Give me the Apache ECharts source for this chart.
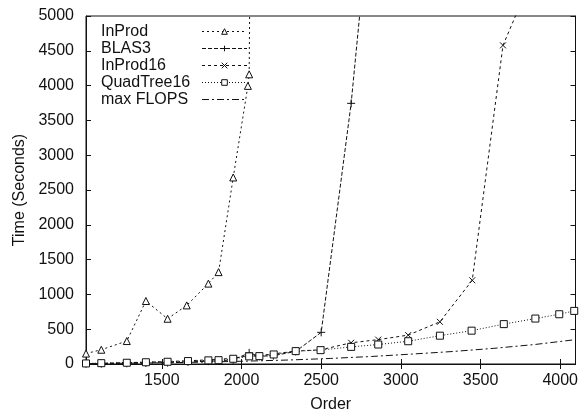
<!DOCTYPE html>
<html>
<head>
<meta charset="utf-8">
<script src="https://cdn.jsdelivr.net/npm/echarts@6/dist/echarts.min.js"></script>
<style>html,body{margin:0;padding:0;background:#fff}#c{width:581px;height:418px}</style>
</head>
<body>
<div id="c"></div>
<script>
// ---- data ----
const seriesNames = ['InProd', 'BLAS3', 'InProd16', 'QuadTree16', 'max FLOPS'];
const xTickValues = [1500, 2000, 2500, 3000, 3500, 4000];

const inProdOrder = [1024, 1120, 1280, 1400, 1536, 1656, 1792, 1856, 1948, 2040, 2048, 2100];
const inProdTime  = [150, 205, 330, 905, 650, 842, 1155, 1320, 2680, 3996, 4162, 20000];

const blas3Order = [1024, 1120, 1280, 1400, 1536, 1664, 1792, 1856, 1948, 2048, 2112, 2200, 2340, 2500, 2688, 2800];
const blas3Time  = [3, 5, 10, 15, 20, 30, 40, 45, 60, 160, 110, 120, 180, 455, 3745, 6400];

const inProd16Order = [1024, 1120, 1280, 1400, 1536, 1664, 1792, 1856, 1948, 2048, 2112, 2200, 2340, 2500, 2688, 2858, 3046, 3245, 3448, 3641, 3840];
const inProd16Time  = [6, 10, 20, 26, 36, 46, 60, 66, 85, 118, 120, 145, 185, 205, 305, 350, 415, 606, 1203, 4578, 5650];

const quadOrder = [1024, 1120, 1280, 1400, 1536, 1664, 1792, 1856, 1948, 2048, 2112, 2202, 2340, 2496, 2688, 2858, 3046, 3245, 3444, 3646, 3844, 3994, 4088];
const quadTime  = [8, 12, 18, 25, 32, 42, 52, 55, 75, 110, 113, 137, 185, 199, 246, 280, 327, 407, 479, 573, 653, 715, 763];

const flopsOrder = [1024, 1280, 1536, 1792, 2048, 2304, 2560, 2816, 3072, 3328, 3584, 3840, 4096];
const flopsTime  = [5, 11, 18, 29, 42, 58, 80, 108, 143, 180, 225, 280, 350];

// ---- chart ----
const pairs = (xs, ys) => xs.map((x, i) => [x, ys[i]]);
const font = 'Liberation Sans, Arial, Helvetica, sans-serif';
const ink = '#111';

const triPath = 'path://M5,0L10,9L0,9Z';
const squarePath = 'path://M0,0L10,0L10,10L0,10Z';
const plusPath = 'path://M0,5L10,5M5,0L5,10';
const crossPath = 'path://M0,0L10,10M10,0L0,10';

function mk(name, data, dash, symbol, size, itemStyle) {
  return {
    name: name,
    type: 'line',
    data: data,
    symbol: symbol,
    symbolSize: size,
    showSymbol: symbol !== 'none',
    lineStyle: { color: ink, width: 1, type: dash },
    itemStyle: itemStyle,
    emphasis: { disabled: true },
    animation: false,
    clip: true
  };
}
const hollowStyle = { color: '#fff', borderColor: ink, borderWidth: 1 };
const strokeStyle = { color: 'rgba(0,0,0,0)', borderColor: ink, borderWidth: 1 };

const legendItemStyle = {
  'InProd': hollowStyle,
  'BLAS3': strokeStyle,
  'InProd16': strokeStyle,
  'QuadTree16': hollowStyle,
  'max FLOPS': { opacity: 0 }
};

const chart = echarts.init(document.getElementById('c'), null, { renderer: 'canvas' });
chart.setOption({
  animation: false,
  backgroundColor: '#fff',
  textStyle: { fontFamily: font },
  grid: { left: 86, right: 5, top: 16, bottom: 50, show: true, borderColor: ink, borderWidth: 1 },
  legend: {
    left: 96, top: 18,
    orient: 'vertical',
    align: 'right',
    itemGap: 0,
    itemWidth: 45,
    itemHeight: 7,
    lineStyle: { width: 1 },
    data: seriesNames.map(n => ({ name: n, itemStyle: legendItemStyle[n] })),
    formatter: n => '{n|' + n + '}',
    textStyle: {
      fontFamily: font, fontSize: 16, color: ink, lineHeight: 17,
      rich: { n: { width: 96, align: 'left', fontFamily: font, fontSize: 16, color: ink, lineHeight: 17 } }
    },
    selectedMode: false
  },
  xAxis: [{
    type: 'value', min: 1024, max: 4096,
    name: 'Order', nameLocation: 'middle', nameGap: 33,
    nameTextStyle: { fontFamily: font, fontSize: 16, color: ink },
    axisLine: { show: true, lineStyle: { color: ink } },
    axisTick: { show: true, inside: true, length: 5, customValues: xTickValues, lineStyle: { color: ink } },
    axisLabel: { show: true, customValues: xTickValues, fontSize: 16, color: ink, margin: 9, fontFamily: font, formatter: v => String(v) },
    splitLine: { show: false }
  }, {
    type: 'value', min: 1024, max: 4096, position: 'top',
    axisLine: { show: true, lineStyle: { color: ink } },
    axisTick: { show: true, inside: true, length: 5, customValues: xTickValues, lineStyle: { color: ink } },
    axisLabel: { show: false },
    splitLine: { show: false }
  }],
  yAxis: [{
    type: 'value', min: 0, max: 5000, interval: 500,
    name: 'Time (Seconds)', nameLocation: 'middle', nameGap: 52, nameRotate: 90,
    nameTextStyle: { fontFamily: font, fontSize: 16, color: ink },
    axisLine: { show: true, lineStyle: { color: ink } },
    axisTick: { show: true, inside: true, length: 5, lineStyle: { color: ink } },
    axisLabel: { fontSize: 16, color: ink, margin: 12, fontFamily: font, formatter: v => String(v) },
    splitLine: { show: false }
  }, {
    type: 'value', min: 0, max: 5000, interval: 500, position: 'right',
    axisLine: { show: true, lineStyle: { color: ink } },
    axisTick: { show: true, inside: true, length: 5, lineStyle: { color: ink } },
    axisLabel: { show: false },
    splitLine: { show: false }
  }],
  series: [
    mk('InProd', pairs(inProdOrder, inProdTime), [2, 3], triPath, 7, hollowStyle),
    mk('BLAS3', pairs(blas3Order, blas3Time), [4, 2], plusPath, 8, strokeStyle),
    mk('InProd16', pairs(inProd16Order, inProd16Time), [3, 3], crossPath, 6, strokeStyle),
    mk('QuadTree16', pairs(quadOrder, quadTime), [1, 2], squarePath, 7, hollowStyle),
    mk('max FLOPS', pairs(flopsOrder, flopsTime), [7, 3, 2, 3], 'none', 0, { color: ink })
  ]
});
</script>
</body>
</html>
